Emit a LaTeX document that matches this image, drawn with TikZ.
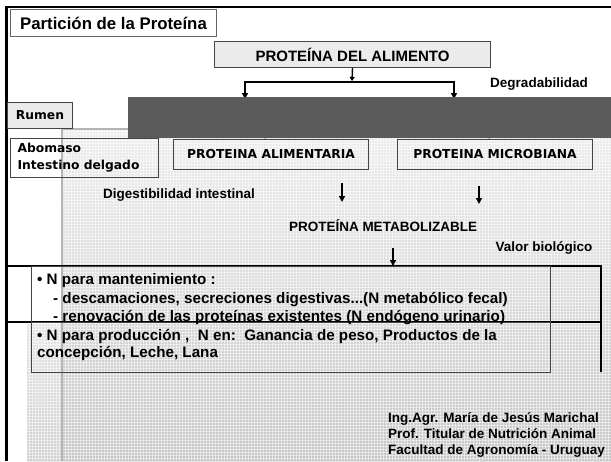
\documentclass[tikz,border=0pt]{standalone}
\usepackage{fontspec}
\setmainfont{Liberation Sans Bold}
\newfontfamily\tah{DejaVu Sans Bold}
\usetikzlibrary{arrows.meta}
\definecolor{band}{HTML}{5B5B5B}
\definecolor{boxline}{HTML}{444444}
\definecolor{lightfill}{HTML}{EBEBEB}
\definecolor{texedge}{HTML}{B5B5B5}
\begin{document}
\begin{tikzpicture}[x=1pt,y=-1pt,
  every node/.style={font=\fontsize{13.5}{16}\selectfont},
  arr/.style={line width=1.6pt,-{Triangle[length=6pt,width=6pt]}},
  plainbox/.style={draw=boxline,line width=1pt,inner sep=0pt,anchor=north west},
  tahfont/.style={font=\tah\fontsize{12.3}{17}\selectfont},
  txt/.style={anchor=base west,inner sep=0pt},
  boxtxt/.style={txt,font=\fontsize{15.2}{18}\selectfont}]
\useasboundingbox (0,0) rectangle (611,461);
\fill[white] (0,0) rectangle (611,461);
% textured background
\shade[top color=black!7, bottom color=black!22] (62,129) rectangle (611,461);
\shade[top color=black!10, bottom color=black!18] (27,324) rectangle (62,461);
\foreach \x in {29,32,...,611} \draw[white,opacity=0.5,line width=0.35pt] (\x,129) -- (\x,461);
\foreach \y in {131,134,...,461} \draw[white,opacity=0.5,line width=0.35pt] (62,\y) -- (611,\y);
\foreach \y in {326,329,...,461} \draw[white,opacity=0.5,line width=0.35pt] (27,\y) -- (62,\y);
\fill[white] (0,129) rectangle (27,461);
\fill[white] (27,129) rectangle (61,323);
\draw[texedge,line width=2pt] (62,129) -- (62,461);
\draw[texedge,line width=1.5pt] (62,129) -- (611,129);
% frame
\draw[black,line width=2pt] (5,7) -- (611,7);
\draw[black,line width=3pt] (6,6) -- (6,461);
% title
\node[plainbox,fill=white,draw=black!60,minimum width=206,minimum height=27,
  font=\fontsize{16.8}{20}\selectfont] (title) at (10,9) {Partición de la Proteína};
% food protein
\node[plainbox,fill=lightfill,minimum width=276,minimum height=26,
  font=\fontsize{15}{18}\selectfont] (food) at (214,41) {PROTEÍNA DEL ALIMENTO};
\coordinate (jt) at (352,81);
\coordinate (jl) at (245,82);
\coordinate (jr) at (454,82);
\coordinate (bl) at (245,99);
\coordinate (br) at (454,99);
\draw[line width=1.4pt,-{Triangle[length=4pt,width=5pt]}] (food.south) -- (jt);
\draw[line width=2pt] ([xshift=-0.8pt]jl) -- ([xshift=0.8pt]jr);
\draw[arr] (jl) -- (bl);
\draw[arr] (jr) -- (br);
\node[anchor=center] (degr) at (539,84) {Degradabilidad};
% rumen
\node[plainbox,fill=lightfill,minimum width=65,minimum height=26,tahfont] (rumen) at (7,102) {Rumen};
% lower boxes
\node[plainbox,minimum width=148,minimum height=39,tahfont,align=left,
  text width=134,inner xsep=7pt] (abo) at (10,138) {Abomaso\\Intestino delgado};
\node[plainbox,minimum width=195,minimum height=30,tahfont] (alim) at (173,139) {PROTEINA ALIMENTARIA};
\node[plainbox,minimum width=195,minimum height=30,tahfont] (micro) at (397,139) {PROTEINA MICROBIANA};
\coordinate (ta) at (265,120);
\coordinate (tm) at (489,120);
\draw[arr] (ta) -- (ta |- alim.north);
\draw[arr] (tm) -- (tm |- micro.north);
% dark band
\fill[band] (128,97) rectangle (611,138);
% middle
\node (dig) at (179,195) {Digestibilidad intestinal};
\coordinate (a1) at (342,183);
\coordinate (a1e) at (342,202);
\coordinate (a2) at (479,186);
\coordinate (a2e) at (479,204);
\draw[arr] (a1) -- (a1e);
\draw[arr] (a2) -- (a2e);
\node (pm) at (383,226) {PROTEÍNA METABOLIZABLE};
\node (vb) at (544,248) {Valor biológico};
\coordinate (a3) at (393,248);
% requirement boxes
\draw[black,line width=1.2pt] (5,266) -- (601,266) -- (601,372);
\draw[black,line width=1.2pt] (5,322) -- (601,322);
\node[plainbox,minimum width=519,minimum height=56] (mant) at (31,266) {};
\node[plainbox,minimum width=519,minimum height=50] (prod) at (31,322) {};
\draw[arr] (a3) -- (a3 |- mant.north);
\node[boxtxt] (m1) at (37,284) {• N para mantenimiento :};
\node[boxtxt] (m2) at (53,303) {- descamaciones, secreciones digestivas...(N metabólico fecal)};
\node[boxtxt] (m3) at (53,321) {- renovación de las proteínas existentes (N endógeno urinario)};
\node[boxtxt] (p1) at (37,340) {• N para producción ,\ \ N en:\ \ Ganancia de peso, Productos de la};
\node[boxtxt] (p2) at (37,357) {concepción, Leche, Lana};
% footer
\node[txt] (f1) at (388,422) {Ing.Agr. María de Jesús Marichal};
\node[txt] (f2) at (388,438) {Prof. Titular de Nutrición Animal};
\node[txt] (f3) at (388,454) {Facultad de Agronomía - Uruguay};
\end{tikzpicture}
\end{document}
